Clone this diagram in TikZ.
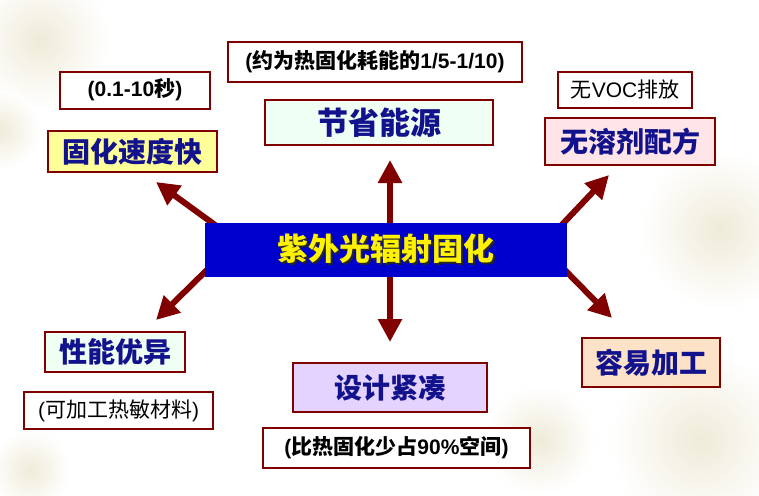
\documentclass[tikz,border=0pt]{standalone}
\usepackage{fontspec}
\setmainfont{Liberation Sans}
\newfontfamily\cjk{Noto Sans CJK SC}
\usetikzlibrary{arrows.meta}
\definecolor{brd}{HTML}{800000}
\definecolor{navy}{HTML}{12128C}
\definecolor{fyellow}{HTML}{FFFF99}
\definecolor{fmint}{HTML}{F0FFF4}
\definecolor{fpink}{HTML}{FFE4E8}
\definecolor{flav}{HTML}{E4D2FF}
\definecolor{fpeach}{HTML}{FCE2C6}
\definecolor{cblue}{HTML}{0000CC}
\definecolor{beige}{HTML}{EFEBD9}
\newcommand{\shadowtext}[1]{\makebox[0pt][l]{\hspace{2pt}\raisebox{-2pt}{\textcolor{black!85}{#1}}}#1}
\pgfdeclarelayer{deco}
\pgfdeclarelayer{arrowlayer}
\pgfsetlayers{deco,arrowlayer,main}
\tikzset{
  bigbox/.style={draw=brd, line width=2.5pt, inner sep=0pt, text=navy,
    font=\cjk\bfseries\fontsize{28}{30}\selectfont},
  tagbox/.style={draw=brd, line width=2pt, fill=white, inner sep=0pt, text=black,
    font=\bfseries\fontsize{21}{24}\selectfont},
  arr/.style={draw=brd, line width=6pt, -{Triangle[width=23pt,length=23pt]}},
  glow/.style={inner color=beige, outer color=white}
}
\begin{document}
\begin{tikzpicture}[x=1pt,y=-1pt]
\useasboundingbox (0,0) rectangle (759,495);
\begin{pgfonlayer}{deco}
\fill[white] (0,0) rectangle (759,495);
\shade[glow] (40,40) circle (70);
\shade[glow] (0,130) circle (40);
\shade[glow] (720,230) circle (80);
\shade[glow] (700,440) circle (90);
\shade[glow] (540,440) circle (55);
\shade[glow] (30,470) circle (40);
\end{pgfonlayer}

\node[tagbox, minimum width=150pt, minimum height=37pt] (t1) at (135,90) {(0.1-10{\cjk 秒})};
\node[bigbox, fill=fyellow, minimum width=169pt, minimum height=41pt] (b1) at (132.5,151.5) {固化速度快};
\node[tagbox, minimum width=294pt, minimum height=40pt] (t2) at (375,62) {({\cjk 约为热固化耗能的}1/5-1/10)};
\node[bigbox, fill=fmint, minimum width=228pt, minimum height=45pt, font=\cjk\bfseries\fontsize{31}{33}\selectfont] (b2) at (379,122.5) {节省能源};
\node[tagbox, line width=1.5pt, minimum width=134pt, minimum height=36pt, font=\mdseries\fontsize{21}{24}\selectfont] (t3) at (625,90) {{\cjk 无}VOC{\cjk 排放}};
\node[bigbox, fill=fpink, minimum width=170pt, minimum height=47pt] (b3) at (630,141.5) {无溶剂配方};
\node[fill=cblue, minimum width=362pt, minimum height=54pt, inner sep=0pt, text=yellow, font=\cjk\bfseries\fontsize{31}{33}\selectfont] (c) at (386,250) {\shadowtext{紫外光辐射固化}};
\node[bigbox, fill=fmint, minimum width=140pt, minimum height=40pt] (b4) at (115,352) {性能优异};
\node[tagbox, minimum width=189pt, minimum height=37pt, font=\mdseries\fontsize{21}{24}\selectfont] (t4) at (118.5,410.5) {({\cjk 可加工热敏材料})};
\node[bigbox, fill=flav, minimum width=194pt, minimum height=49pt] (b5) at (390,387.5) {设计紧凑};
\node[tagbox, minimum width=267pt, minimum height=40pt] (t5) at (396.5,448) {({\cjk 比热固化少占}90\%{\cjk 空间})};
\node[bigbox, fill=fpeach, minimum width=138pt, minimum height=49pt] (b6) at (651,362.5) {容易加工};

\coordinate (o1) at (222,230); \coordinate (p1) at (156,182);
\coordinate (o2) at (390,250); \coordinate (p2) at (390,160);
\coordinate (o3) at (556,231); \coordinate (p3) at (609,175);
\coordinate (o4) at (214,263); \coordinate (p4) at (156,320);
\coordinate (o5) at (390,250); \coordinate (p5) at (390,342);
\coordinate (o6) at (556,261); \coordinate (p6) at (612,318);
\begin{pgfonlayer}{arrowlayer}
\draw[arr] (o1) -- (p1);
\draw[arr] (o2) -- (p2);
\draw[arr] (o3) -- (p3);
\draw[arr] (o4) -- (p4);
\draw[arr] (o5) -- (p5);
\draw[arr] (o6) -- (p6);
\end{pgfonlayer}
\end{tikzpicture}
\end{document}
